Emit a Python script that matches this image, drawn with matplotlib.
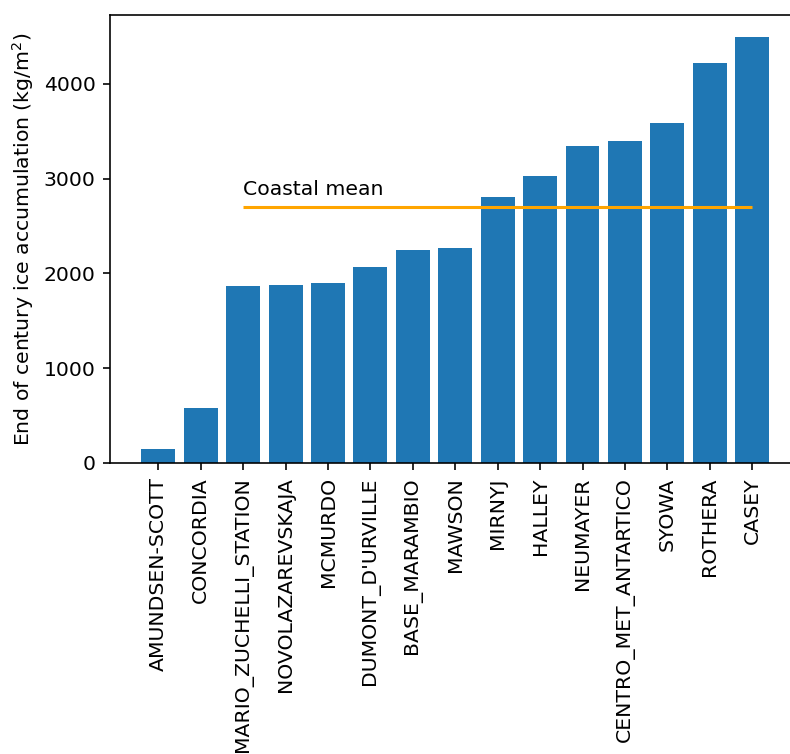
import matplotlib
matplotlib.use("Agg")
import matplotlib.pyplot as plt

# End of century ice accumulation per station (kg/m2), sorted
stations = ["AMUNDSEN-SCOTT", "CONCORDIA", "MARIO_ZUCHELLI_STATION", "NOVOLAZAREVSKAJA",
            "MCMURDO", "DUMONT_D'URVILLE", "BASE_MARAMBIO", "MAWSON", "MIRNYJ", "HALLEY",
            "NEUMAYER", "CENTRO_MET_ANTARTICO", "SYOWA", "ROTHERA", "CASEY"]
accumulation = [148, 580, 1868, 1878, 1896, 2065, 2248, 2266, 2804, 3033,
                3346, 3398, 3588, 4218, 4496]
coastal_mean = 2705

DPI = 147
W, H = 790, 754
fig = plt.figure(figsize=(W / DPI, H / DPI), dpi=DPI)
# the reference is a crop: right spine and the long labels run off the figure
ax = fig.add_axes([110 / W, 1 - 463 / H, 727 / W, 448 / H])

ax.bar(stations, accumulation, color="#1f77b4")
ax.hlines(coastal_mean, 2, len(stations) - 1, color="orange", lw=1.5)
ax.text(2, coastal_mean + 80, "Coastal mean", fontsize=10, va="bottom")

ax.set_xlim(-1.14, 16.0)
ax.set_ylim(0, 4728)
ax.set_ylabel("End of century ice accumulation (kg/m$^2$)")
ax.tick_params(axis="x", labelrotation=90)

fig.savefig("out.png", dpi=DPI)
